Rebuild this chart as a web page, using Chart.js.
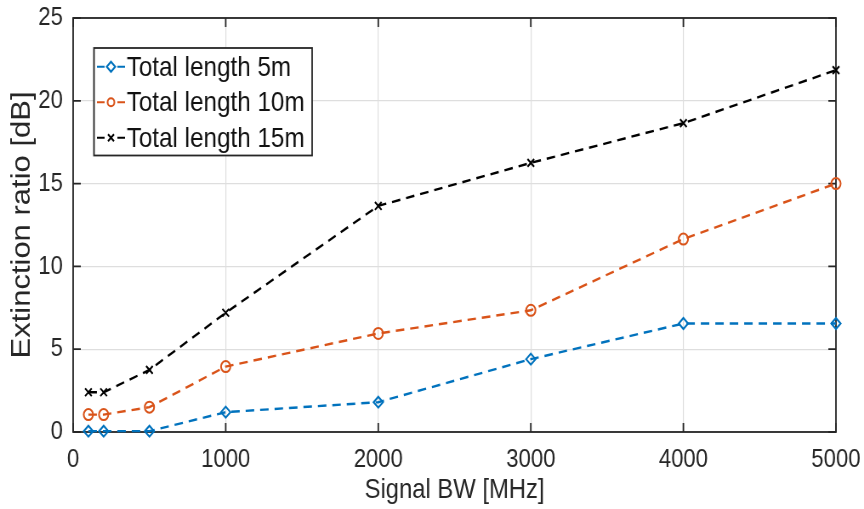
<!DOCTYPE html>
<html>
<head>
<meta charset="utf-8">
<script src="https://cdn.jsdelivr.net/npm/chart.js@4.4.1/dist/chart.umd.min.js"></script>
<style>
  html, body { margin: 0; padding: 0; background: #fff; overflow: hidden; }
  /* the figure is drawn wide and then narrowed horizontally */
  #wrap { width: 1016px; height: 509px; transform: scale(0.8504, 1); transform-origin: 0 0; }
</style>
</head>
<body>
<div id="wrap"><canvas id="chart" width="1016" height="509" style="width:1016px;height:509px"></canvas></div>
<script>
// signal bandwidth in MHz
var bandwidth = [100, 200, 500, 1000, 2000, 3000, 4000, 5000];
// extinction ratio in dB for each total fibre length
var length5m = [0.05, 0.05, 0.05, 1.2, 1.8, 4.4, 6.55, 6.55];
var length10m = [1.05, 1.05, 1.5, 3.95, 5.95, 7.35, 11.65, 15.0];
var length15m = [2.4, 2.4, 3.75, 7.2, 13.65, 16.25, 18.65, 21.85];
var seriesNames = ['Total length 5m', 'Total length 10m', 'Total length 15m'];
var xTicks = [0, 1000, 2000, 3000, 4000, 5000];
var yTicks = [0, 5, 10, 15, 20, 25];

var FONT = "'Liberation Sans', Arial, Helvetica, sans-serif";
var INK = '#262626';

function pts(ys) {
  return bandwidth.map(function (x, i) { return { x: x, y: ys[i] }; });
}

function series(label, ys, color, style) {
  return {
    label: label,
    data: pts(ys),
    borderColor: color,
    backgroundColor: color,
    borderWidth: 2.4,
    borderDash: [10, 7],
    pointStyle: style,
    pointRadius: 5.5,
    pointHoverRadius: 5.5,
    pointBorderWidth: 2,
    pointBorderColor: color,
    pointBackgroundColor: 'rgba(0,0,0,0)',
    clip: false,
    tension: 0
  };
}

// small marker for the legend samples
function marker(ctx, style, x, y, r) {
  ctx.beginPath();
  if (style === 'rectRot') {
    ctx.moveTo(x, y - r); ctx.lineTo(x + r, y);
    ctx.lineTo(x, y + r); ctx.lineTo(x - r, y); ctx.closePath();
  } else if (style === 'circle') {
    ctx.arc(x, y, r * 0.8, 0, Math.PI * 2);
  } else {
    var d = r * 0.7;
    ctx.moveTo(x - d, y - d); ctx.lineTo(x + d, y + d);
    ctx.moveTo(x + d, y - d); ctx.lineTo(x - d, y + d);
  }
  ctx.stroke();
}

// box round the axes with inward ticks on all four sides
var axesBox = {
  id: 'axesBox',
  beforeDatasetsDraw: function (chart) {
    var ctx = chart.ctx, a = chart.chartArea;
    var sx = chart.scales.x, sy = chart.scales.y, len = 9;
    ctx.save();
    ctx.strokeStyle = INK;
    ctx.lineWidth = 1.8;
    ctx.strokeRect(a.left, a.top, a.right - a.left, a.bottom - a.top);
    ctx.beginPath();
    xTicks.forEach(function (v) {
      var px = sx.getPixelForValue(v);
      ctx.moveTo(px, a.bottom); ctx.lineTo(px, a.bottom - len);
      ctx.moveTo(px, a.top); ctx.lineTo(px, a.top + len);
    });
    yTicks.forEach(function (v) {
      var py = sy.getPixelForValue(v);
      ctx.moveTo(a.left, py); ctx.lineTo(a.left + len, py);
      ctx.moveTo(a.right, py); ctx.lineTo(a.right - len, py);
    });
    ctx.stroke();
    ctx.restore();
  }
};

// legend drawn inside the axes, top left
var boxLegend = {
  id: 'boxLegend',
  afterDraw: function (chart) {
    var ctx = chart.ctx;
    var x0 = 110.5, y0 = 48, w = 256.5, rowH = 35.5;
    var sets = chart.data.datasets;
    ctx.save();
    ctx.fillStyle = '#fff';
    ctx.fillRect(x0, y0, w, rowH * sets.length + 1);
    ctx.strokeStyle = INK;
    ctx.lineWidth = 1.8;
    ctx.strokeRect(x0, y0, w, rowH * sets.length + 1);
    sets.forEach(function (ds, i) {
      var cy = y0 + rowH * (i + 0.5) + 1;
      ctx.strokeStyle = ds.borderColor;
      ctx.lineWidth = 2;
      ctx.beginPath();
      ctx.moveTo(114, cy); ctx.lineTo(123, cy);
      ctx.moveTo(138, cy); ctx.lineTo(147, cy);
      ctx.stroke();
      marker(ctx, ds.pointStyle, 130.5, cy, 5);
      ctx.fillStyle = '#111';
      ctx.font = '28.5px ' + FONT;
      ctx.textBaseline = 'middle';
      ctx.textAlign = 'left';
      ctx.fillText(ds.label, 149, cy + 1);
    });
    ctx.restore();
  }
};

var chart = new Chart(document.getElementById('chart'), {
  type: 'line',
  data: {
    datasets: [
      series(seriesNames[0], length5m, '#0072BD', 'rectRot'),
      series(seriesNames[1], length10m, '#D95319', 'circle'),
      series(seriesNames[2], length15m, '#000000', 'crossRot')
    ]
  },
  plugins: [axesBox, boxLegend],
  options: {
    responsive: false,
    animation: false,
    devicePixelRatio: 1,
    layout: { padding: { left: 0, right: 33, top: 18, bottom: 0 } },
    plugins: { legend: { display: false }, tooltip: { enabled: false } },
    scales: {
      x: {
        type: 'linear',
        min: 0,
        max: 5000,
        afterBuildTicks: function (s) { s.ticks = xTicks.map(function (v) { return { value: v }; }); },
        afterFit: function (s) { s.height = 77; s.paddingLeft = 0; s.paddingRight = 0; },
        grid: { color: '#dedede', lineWidth: 1.2, drawTicks: false },
        border: { display: false },
        ticks: {
          color: INK, padding: 12, maxRotation: 0,
          font: { family: FONT, size: 26 },
          callback: function (v) { return String(v); }
        },
        title: {
          display: true,
          text: 'Signal BW [MHz]',
          color: INK,
          font: { family: FONT, size: 28 },
          padding: { top: 0, bottom: 2 }
        }
      },
      y: {
        min: 0,
        max: 25,
        afterBuildTicks: function (s) { s.ticks = yTicks.map(function (v) { return { value: v }; }); },
        afterFit: function (s) { s.width = 86; s.paddingTop = 0; s.paddingBottom = 0; },
        grid: { color: '#dedede', lineWidth: 1.2, drawTicks: false },
        border: { display: false },
        ticks: {
          color: INK, padding: 12,
          font: { family: FONT, size: 26 },
          callback: function (v) { return String(v); }
        },
        title: {
          display: true,
          text: 'Extinction ratio [dB]',
          color: INK,
          font: { family: FONT, size: 31 },
          padding: { top: 8, bottom: 0 }
        }
      }
    }
  }
});
</script>
</body>
</html>
